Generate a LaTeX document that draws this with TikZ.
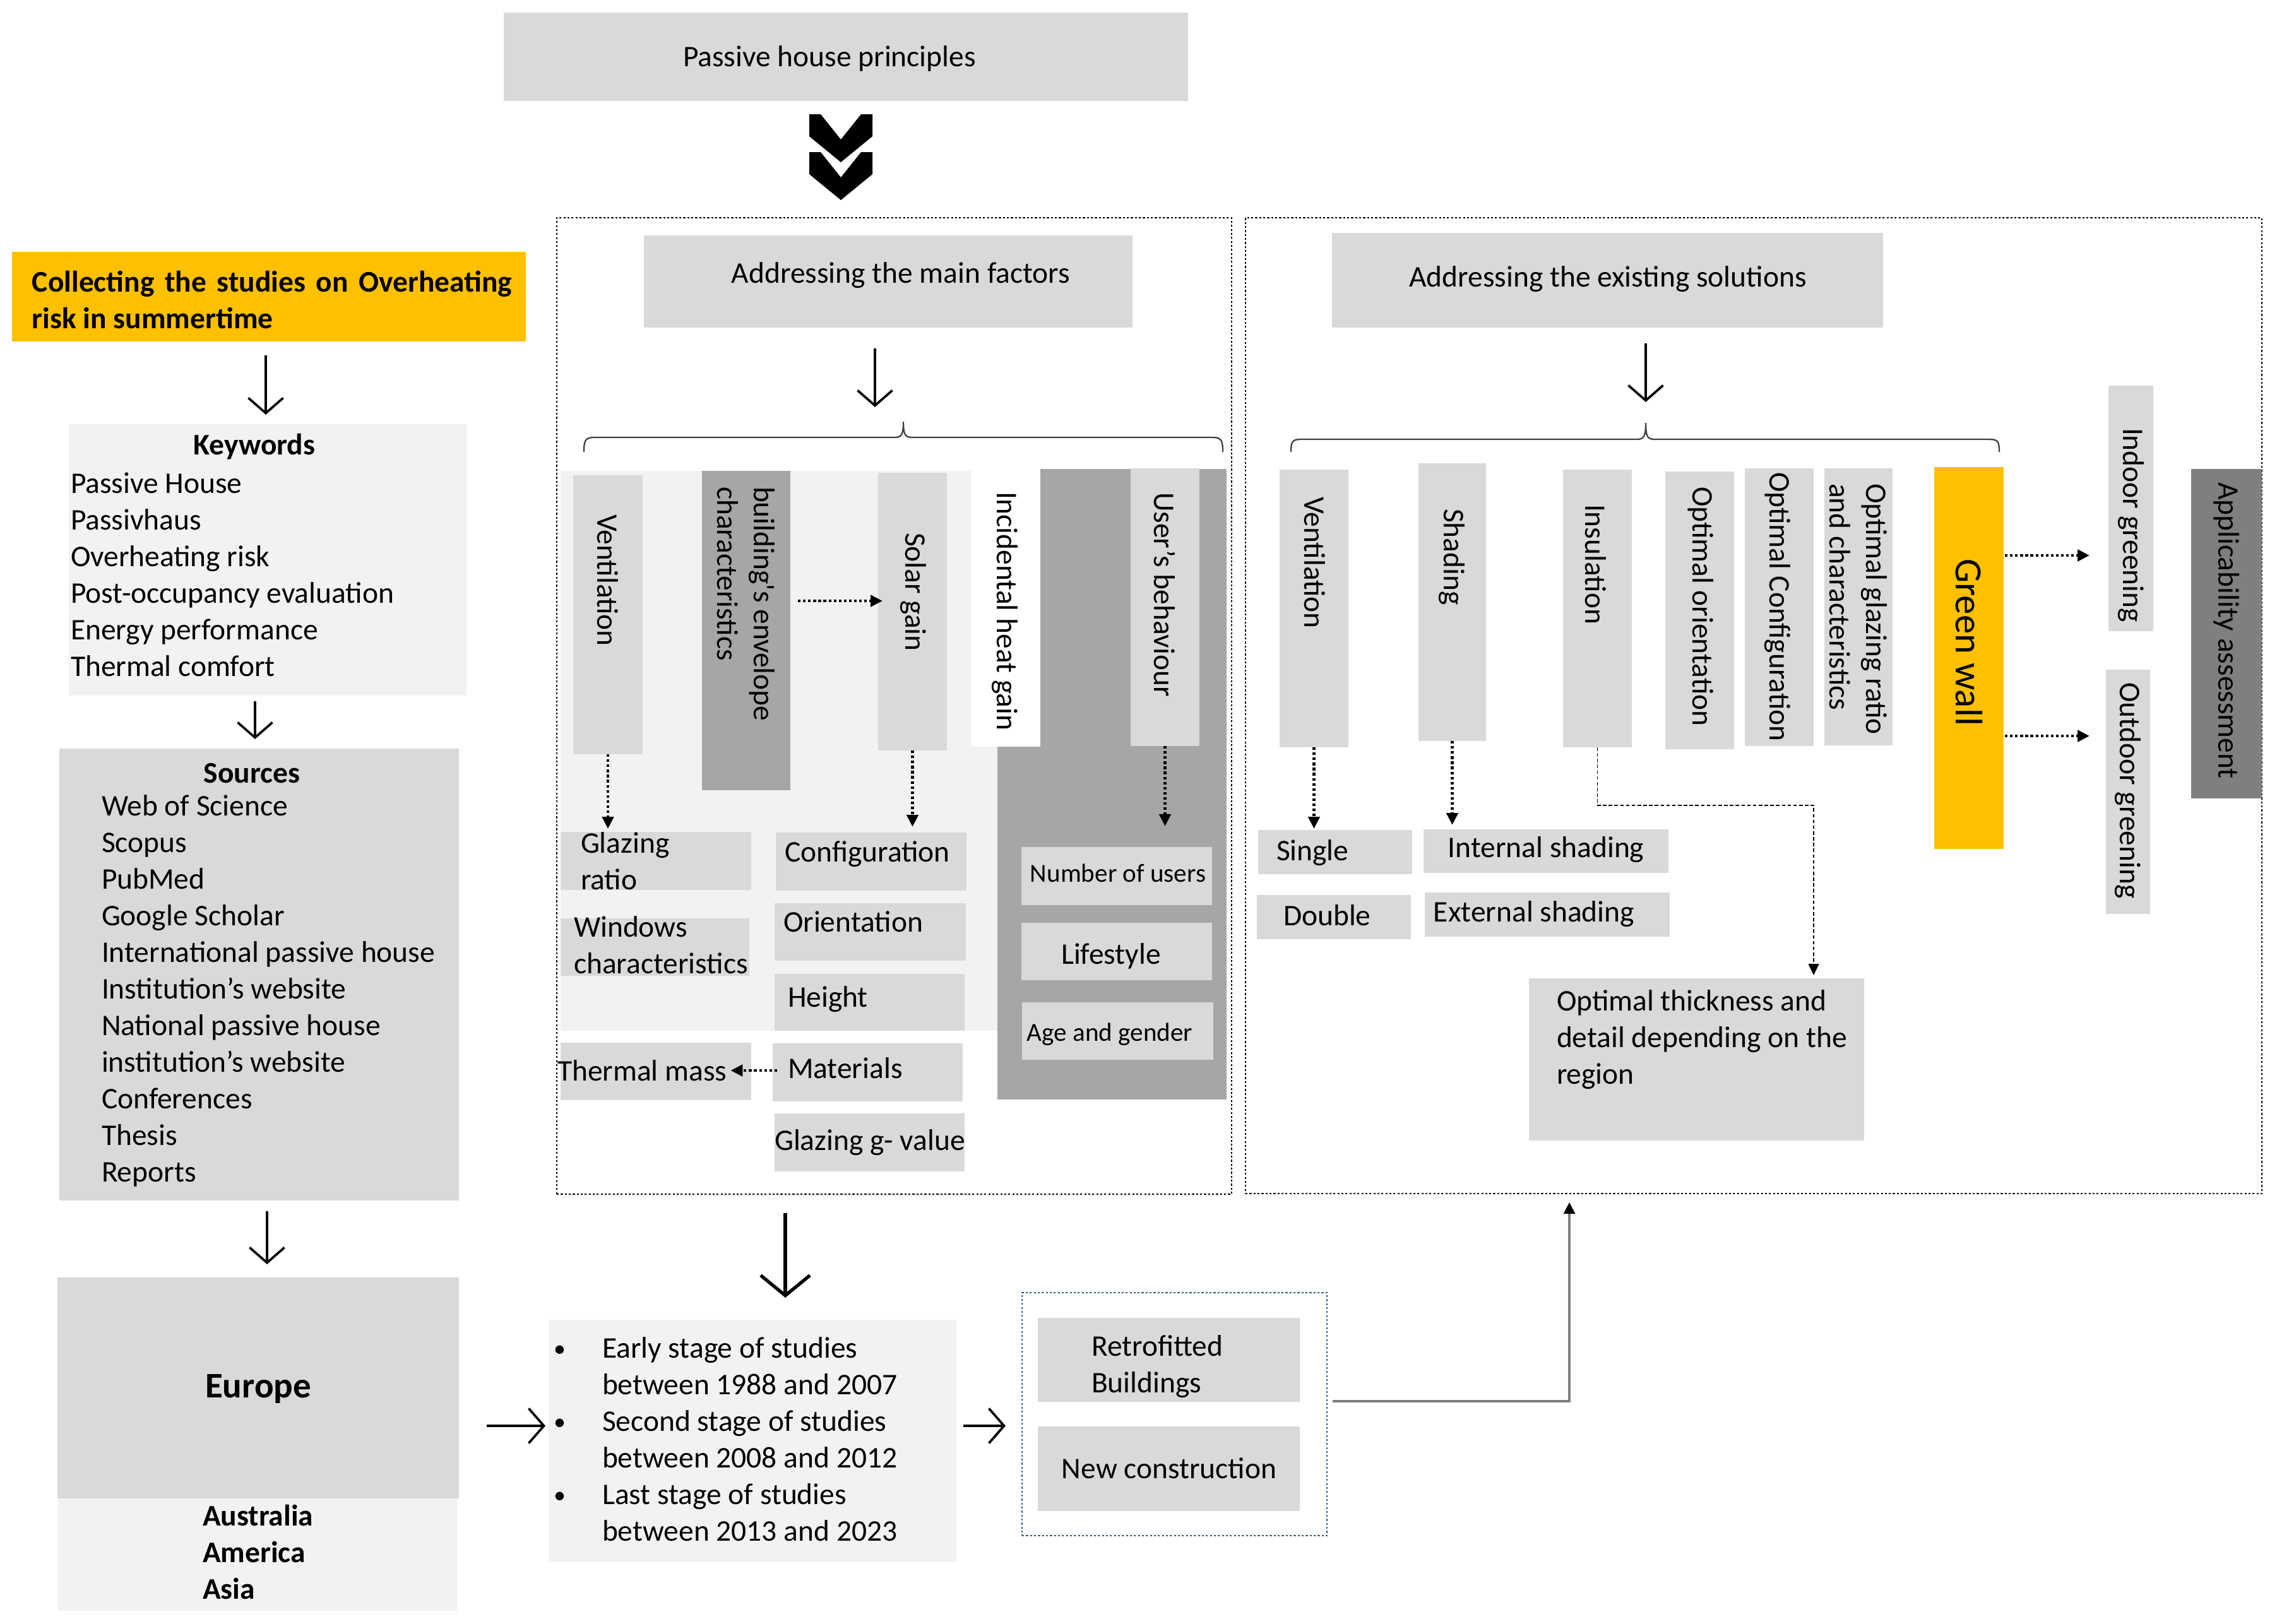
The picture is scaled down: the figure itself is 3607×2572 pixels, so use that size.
\documentclass[tikz,border=0pt]{standalone}
\usepackage{fontspec}
\setmainfont{Carlito}
\usetikzlibrary{arrows.meta}
\definecolor{gA}{HTML}{D9D9D9}
\definecolor{gL}{HTML}{F2F2F2}
\definecolor{gD}{HTML}{A6A6A6}
\definecolor{gX}{HTML}{7F7F7F}
\definecolor{orng}{HTML}{FFC000}
\definecolor{dblue}{HTML}{3A5683}
\newcommand\mybox[6]{\node[boxs,#6,minimum width={(#4-#2)*0.01cm},minimum height={(#5-#3)*0.01cm}] (#1) at ({(#2+#4)/2},{(#3+#5)/2}) {};}
\newcommand\mybul{\makebox[0.77cm][l]{\raisebox{0.1ex}{\scalebox{0.8}{\textbullet}}}}
\begin{document}
\begin{tikzpicture}[x=0.01cm,y=-0.01cm,
  boxs/.style={rectangle,draw=none,inner sep=0,outer sep=0},
  txt/.style={inner sep=0,outer sep=0,font=\fontsize{13.5pt}{16.5pt}\selectfont},
  lt/.style={txt,anchor=west,align=left},
  ct/.style={txt,anchor=center,align=center},
  rt/.style={txt,rotate=-90,anchor=west,align=left},
  bold/.style={font=\fontsize{13.5pt}{16.5pt}\selectfont\bfseries},
  small/.style={font=\fontsize{11.7pt}{14pt}\selectfont},
  sarrow/.style={line width=1.05pt,-{Straight Barb[length=0.24cm,width=0.55cm]}},
  barrow/.style={line width=1.5pt,-{Straight Barb[length=0.32cm,width=0.78cm]}},
  darrow/.style={line width=1.35pt,dash pattern=on 1.2pt off 1.1pt,-{Triangle[length=0.19cm,width=0.18cm]}},
  dasharrow/.style={line width=0.5pt,dash pattern=on 1.6pt off 1pt,-{Triangle[length=0.18cm,width=0.17cm]}},
  greyarrow/.style={line width=0.9pt,draw=gX,-{Triangle[length=0.18cm,width=0.18cm,color=black,fill=black]}},
  dotb/.style={line width=0.7pt,dash pattern=on 0.9pt off 0.9pt},
  bracepath/.style={line width=0.65pt,draw=black!75}]
\useasboundingbox[fill=white] (0,0) rectangle (3607,2572);

% ---------- top ----------
\mybox{php}{798}{20}{1882}{160}{fill=gA}
\node[ct] (tphp) at (1314,93) {Passive house principles};
\fill (1282,181) -- (1300,181) -- (1332,221) -- (1364,181) -- (1382,181) -- (1382,216) -- (1332,257) -- (1282,216) -- cycle;
\fill (1282,241) -- (1300,241) -- (1332,281) -- (1364,241) -- (1382,241) -- (1382,276) -- (1332,317) -- (1282,276) -- cycle;

% ---------- left column ----------
\mybox{col}{19}{399}{833}{541}{fill=orng}
\node[lt,bold] (tcol) at (51,475) {\makebox[7.6cm][s]{Collecting the studies on Overheating}\\risk in summertime};
\mybox{kw}{109}{672}{739}{1102}{fill=gL}
\node[ct,bold] (tkw) at (403,708) {Keywords};
\node[lt] (tkwl) at (112,910) {Passive House\\Passivhaus\\Overheating risk\\Post-occupancy evaluation\\Energy performance\\Thermal comfort};
\mybox{src}{94}{1186}{727}{1902}{fill=gA}
\node[ct,bold] (tsrc) at (399,1225) {Sources};
\node[lt] (tsrcl) at (161,1570) {Web of Science\\Scopus\\PubMed\\Google Scholar\\International passive house\\Institution’s website\\National passive house\\institution’s website\\Conferences\\Thesis\\Reports};
\mybox{eu}{91}{2024}{727}{2374}{fill=gA}
\node[ct,font=\fontsize{16.2pt}{19pt}\selectfont\bfseries] (teu) at (409,2200) {Europe};
\mybox{oth}{92}{2374}{724}{2552}{fill=gL}
\node[lt,bold] (toth) at (321,2459) {Australia\\America\\Asia};

\draw[sarrow] ([yshift=-0.22cm]col.south -| 421,0) -- ([yshift=0.15cm]kw.north -| 421,0);
\draw[sarrow] ([yshift=-0.09cm]kw.south -| 404,0) -- ([yshift=0.15cm]src.north -| 404,0);
\draw[sarrow] ([yshift=-0.17cm]src.south -| 423,0) -- ([yshift=0.21cm]eu.north -| 423,0);

% ---------- bottom ----------
\mybox{stg}{869}{2091}{1515}{2475}{fill=gL}
\node[lt] (tstg) at (877,2280) {\mybul Early stage of studies\\\hspace*{0.77cm}between 1988 and 2007\\\mybul Second stage of studies\\\hspace*{0.77cm}between 2008 and 2012\\\mybul Last stage of studies\\\hspace*{0.77cm}between 2013 and 2023};
\mybox{blu}{1619}{2048}{2102}{2433}{dotb,draw=dblue}
\mybox{retro}{1644}{2088}{2059}{2221}{fill=gA}
\node[lt] (tretro) at (1729,2165) {Retrofitted\\Buildings};
\mybox{newc}{1644}{2260}{2059}{2394}{fill=gA}
\node[ct] (tnewc) at (1852,2326) {New construction};
\draw[sarrow] ([xshift=0.44cm]eu.east |- 0,2259) -- ([xshift=-0.05cm]stg.west |- 0,2259);
\draw[sarrow] ([xshift=0.11cm]stg.east |- 0,2259) -- ([xshift=-0.26cm]blu.west |- 0,2259);

% ---------- middle box ----------
\mybox{mbox}{882}{345}{1951}{1892}{dotb,draw=black}
\mybox{amf}{1020}{373}{1794}{519}{fill=gA}
\node[ct] (tamf) at (1427,436) {Addressing the main factors};
\draw[sarrow] ([yshift=-0.33cm]amf.south -| 1386,0) -- (1386,645);
\draw[bracepath] (925,716) .. controls (925,698) and (927,693) .. (941,693) -- (1417,693) .. controls (1428,693) and (1431,689) .. (1431,668) .. controls (1431,689) and (1434,693) .. (1445,693) -- (1921,693) .. controls (1935,693) and (1937,698) .. (1937,716);

\mybox{lpan}{888}{746}{1580}{1633}{fill=gL}
\mybox{dpan}{1580}{743}{1943}{1742}{fill=gD}
\mybox{incid}{1539}{743}{1648}{1183}{fill=white}
\mybox{mvent}{908}{753}{1018}{1195}{fill=gA}
\mybox{env}{1112}{746}{1252}{1252}{fill=gD}
\mybox{solar}{1391}{749}{1500}{1189}{fill=gA}
\mybox{users}{1791}{742}{1900}{1182}{fill=gA}
\node[rt] (tmvent) at (963,815) {Ventilation};
\node[rt] (tenv) at (1182,771) {building\textquotesingle s envelope\\characteristics};
\node[rt] (tsolar) at (1447,844) {Solar gain};
\node[rt] (tincid) at (1592,779) {Incidental heat gain};
\node[rt] (tusers) at (1845,780) {User’s behaviour};

\mybox{glz}{888}{1318}{1190}{1410}{fill=gA}
\mybox{win}{888}{1455}{1187}{1546}{fill=gA}
\mybox{conf}{1229}{1319}{1531}{1411}{fill=gA}
\mybox{ori}{1227}{1431}{1530}{1522}{fill=gA}
\mybox{hgt}{1227}{1543}{1528}{1633}{fill=gA}
\mybox{mat}{1224}{1653}{1525}{1745}{fill=gA}
\mybox{thm}{888}{1652}{1190}{1743}{fill=gA}
\mybox{ggv}{1227}{1764}{1528}{1856}{fill=gA}
\mybox{nou}{1618}{1342}{1920}{1434}{fill=gA}
\mybox{life}{1618}{1462}{1920}{1553}{fill=gA}
\mybox{age}{1619}{1588}{1922}{1679}{fill=gA}
\node[lt] (tglz) at (920,1364) {Glazing\\ratio};
\node[lt] (twin) at (909,1497) {Windows\\characteristics};
\node[lt] (tconf) at (1243,1353) {Configuration};
\node[lt] (tori) at (1241,1460) {Orientation};
\node[lt] (thgt) at (1248,1583) {Height};
\node[lt] (tmat) at (1248,1692) {Materials};
\node[lt] (tthm) at (883,1696) {Thermal mass};
\node[ct] (tggv) at (1378,1810) {Glazing g- value};
\node[ct,small] (tnou) at (1771,1383) {Number of users};
\node[ct] (tlife) at (1760,1515) {Lifestyle};
\node[ct,small] (tage) at (1758,1639) {Age and gender};

\draw[darrow] (mvent.south) -- ([yshift=0.05cm]mvent.south |- glz.north);
\draw[darrow] (solar.south) -- ([yshift=0.09cm]solar.south |- conf.north);
\draw[darrow] (users.south) -- ([yshift=0.33cm]users.south |- nou.north);
\draw[darrow] ([xshift=0.12cm]env.east |- 0,952) -- ([xshift=0.07cm]solar.west |- 0,952);
\draw[darrow] ([xshift=0.07cm]mat.west |- 0,1696) -- ([xshift=0.06cm]tthm.east |- 0,1696);

\draw[barrow] ([yshift=-0.30cm]mbox.south -| 1244,0) -- ([yshift=0.35cm]stg.north -| 1244,0);

% ---------- right box ----------
\mybox{rbox}{1973}{345}{3583}{1891}{dotb,draw=black}
\mybox{aes}{2110}{369}{2983}{519}{fill=gA}
\node[ct] (taes) at (2547,442) {Addressing the existing solutions};
\draw[sarrow] ([yshift=-0.25cm]aes.south -| 2607,0) -- (2607,637);
\draw[bracepath] (2045,716) .. controls (2045,700) and (2047,696) .. (2061,696) -- (2593,696) .. controls (2604,696) and (2607,692) .. (2607,670) .. controls (2607,692) and (2610,696) .. (2621,696) -- (3151,696) .. controls (3165,696) and (3167,700) .. (3167,716);

\mybox{rvent}{2027}{744}{2136}{1184}{fill=gA}
\mybox{shad}{2247}{734}{2354}{1174}{fill=gA}
\mybox{ins}{2476}{744}{2585}{1184}{fill=gA}
\mybox{oor}{2638}{747}{2747}{1187}{fill=gA}
\mybox{ocf}{2764}{742}{2873}{1182}{fill=gA}
\mybox{ogl}{2890}{742}{2998}{1181}{fill=gA}
\mybox{gw}{3064}{740}{3174}{1345}{fill=orng}
\mybox{indoor}{3340}{611}{3411}{1000}{fill=gA}
\mybox{outdoor}{3336}{1061}{3406}{1448}{fill=gA}
\mybox{appl}{3471}{743}{3583}{1265}{fill=gX}
\node[rt] (trvent) at (2083,787) {Ventilation};
\node[rt] (tshad) at (2300,806) {Shading};
\node[rt] (tins) at (2528,799) {Insulation};
\node[rt] (toor) at (2694,771) {Optimal orientation};
\node[rt] (tocf) at (2816,748) {Optimal Configuration};
\node[rt] (togl) at (2944,766) {Optimal glazing ratio\\and characteristics};
\node[rt,font=\fontsize{17.3pt}{20pt}\selectfont] (tgw) at (3119,885) {Green wall};
\node[rt] (tindoor) at (3376,678) {Indoor greening};
\node[rt] (toutdoor) at (3371,1081) {Outdoor greening};
\node[rt] (tappl) at (3527,764) {Applicability assessment};

\mybox{single}{1993}{1315}{2237}{1385}{fill=gA}
\mybox{double}{1991}{1418}{2235}{1488}{fill=gA}
\mybox{intsh}{2255}{1314}{2643}{1383}{fill=gA}
\mybox{extsh}{2257}{1414}{2645}{1484}{fill=gA}
\mybox{othk}{2422}{1550}{2953}{1807}{fill=gA}
\node[lt] (tsingle) at (2022,1351) {Single};
\node[lt] (tdouble) at (2033,1450) {Double};
\node[ct] (tintsh) at (2449,1346) {Internal shading};
\node[ct] (textsh) at (2430,1448) {External shading};
\node[lt] (tothk) at (2466,1647) {Optimal thickness and\\detail depending on the\\region};

\draw[darrow] (rvent.south) -- ([yshift=0.02cm]rvent.south |- single.north);
\draw[darrow] (shad.south) -- ([yshift=0.07cm]shad.south |- intsh.north);
\draw[darrow] ([xshift=0.02cm]gw.east |- 0,880) -- ([xshift=-0.30cm]indoor.west |- 0,880);
\draw[darrow] ([xshift=0.02cm]gw.east |- 0,1166) -- ([xshift=-0.26cm]outdoor.west |- 0,1166);
\coordinate (icorner) at (2873,1276);
\draw[dasharrow] (ins.south) |- (icorner) -- ([yshift=0.05cm]icorner |- othk.north);

\coordinate (gcorner) at (2486,2220);
\coordinate (gtop) at (2486,1905);
\draw[greyarrow] ([xshift=0.09cm]blu.east |- gcorner) -- (gcorner) -- (gtop);
\end{tikzpicture}
\end{document}
